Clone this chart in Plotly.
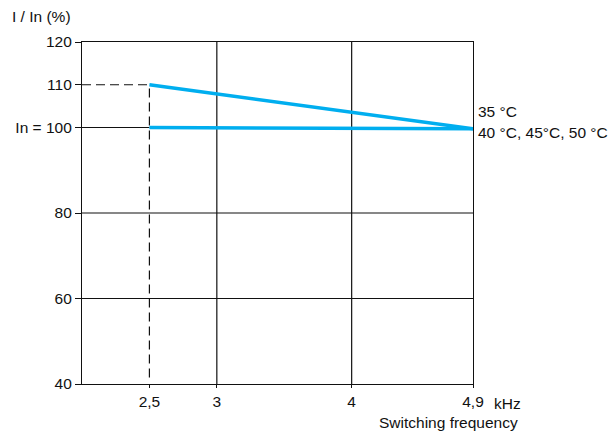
import plotly.graph_objects as go

# Data
freq_khz = [2.5, 4.9]
curve_35 = [110, 99.7]
curve_40_50 = [100, 99.7]
x_ticks = [2.5, 3, 4, 4.9]
x_ticktext = ["2,5", "3", "4", "4,9"]
y_ticks = [40, 60, 80, 100, 110, 120]
y_ticktext = ["40", "60", "80", "In = 100", "110", "120"]
x_grid = [3, 4]
y_grid = [60, 80]
ref_freq = 2.5
ref_levels = [110, 100]
label_35 = "35 °C"
label_40_50 = "40 °C, 45°C, 50 °C"

BLUE = "#00AEEF"
INK = "#111111"
FONT = "Liberation Sans, Arial, sans-serif"
FS = 15.5
X0, X1 = 2.0, 4.9

fig = go.Figure()
fig.add_trace(go.Scatter(x=freq_khz, y=curve_35, mode="lines",
                         line=dict(color=BLUE, width=3.5), cliponaxis=False,
                         showlegend=False, hoverinfo="skip"))
fig.add_trace(go.Scatter(x=freq_khz, y=curve_40_50, mode="lines",
                         line=dict(color=BLUE, width=3.5), cliponaxis=False,
                         showlegend=False, hoverinfo="skip"))

shapes = []
for gx in x_grid:
    shapes.append(dict(type="line", xref="x", yref="paper", x0=gx, x1=gx, y0=0, y1=1,
                       line=dict(color=INK, width=1.2), layer="below"))
for gy in y_grid:
    shapes.append(dict(type="line", xref="paper", yref="y", x0=0, x1=1, y0=gy, y1=gy,
                       line=dict(color=INK, width=1.2), layer="below"))
# dashed vertical reference at 2.5 kHz
shapes.append(dict(type="line", xref="x", yref="y", x0=ref_freq, x1=ref_freq,
                   y0=y_ticks[0] + 1.5, y1=ref_levels[0],
                   line=dict(color=INK, width=1.2, dash="9px,5px"), layer="below"))
# dashed horizontal at 110
shapes.append(dict(type="line", xref="paper", yref="y", x0=0, x1=(ref_freq - X0) / (X1 - X0),
                   y0=ref_levels[0], y1=ref_levels[0],
                   line=dict(color=INK, width=1.2, dash="9px,5px"), layer="below"))
# solid horizontal at 100
shapes.append(dict(type="line", xref="paper", yref="y", x0=0, x1=(ref_freq - X0) / (X1 - X0),
                   y0=ref_levels[1], y1=ref_levels[1],
                   line=dict(color=INK, width=1.2), layer="below"))

annotations = [
    dict(text="I / In (%)", xref="paper", yref="paper", x=-72 / 391, y=1 + 25 / 342,
         xanchor="left", yanchor="middle", showarrow=False, font=dict(size=FS, color=INK)),
    dict(text="kHz", xref="paper", yref="paper", x=1 + 19 / 391, y=-19 / 342,
         xanchor="left", yanchor="middle", showarrow=False, font=dict(size=FS, color=INK)),
    dict(text="Switching frequency", xref="paper", yref="paper", x=(448 - 82) / 391, y=-38 / 342,
         xanchor="center", yanchor="middle", showarrow=False, font=dict(size=FS, color=INK)),
    dict(text=label_35, xref="x", yref="y", x=freq_khz[-1], y=curve_35[-1],
         xanchor="left", yanchor="middle", xshift=3, yshift=17, showarrow=False,
         font=dict(size=FS, color=INK)),
    dict(text=label_40_50, xref="x", yref="y", x=freq_khz[-1], y=curve_40_50[-1],
         xanchor="left", yanchor="middle", xshift=3, yshift=-4, showarrow=False,
         font=dict(size=FS, color=INK)),
]

fig.update_layout(
    width=614, height=432,
    margin=dict(l=82, r=141, t=42, b=48),
    paper_bgcolor="white", plot_bgcolor="white",
    font=dict(family=FONT, size=FS, color=INK),
    shapes=shapes, annotations=annotations,
    xaxis=dict(range=[X0, X1], tickvals=x_ticks, ticktext=x_ticktext,
               showgrid=False, zeroline=False, showline=True, mirror=True,
               linecolor=INK, linewidth=1.2, ticks="outside", ticklen=3,
               tickcolor=INK, tickwidth=1.2, tickfont=dict(size=FS, color=INK)),
    yaxis=dict(range=[40, 120], tickvals=y_ticks, ticktext=y_ticktext,
               showgrid=False, zeroline=False, showline=True, mirror=True,
               linecolor=INK, linewidth=1.2, ticks="outside", ticklen=6,
               tickcolor=INK, tickwidth=1.2, tickfont=dict(size=FS, color=INK)),
)

fig.write_html("out.html", config={"displayModeBar": False},
               post_script="document.body.style.margin='0';document.body.style.padding='0';")
